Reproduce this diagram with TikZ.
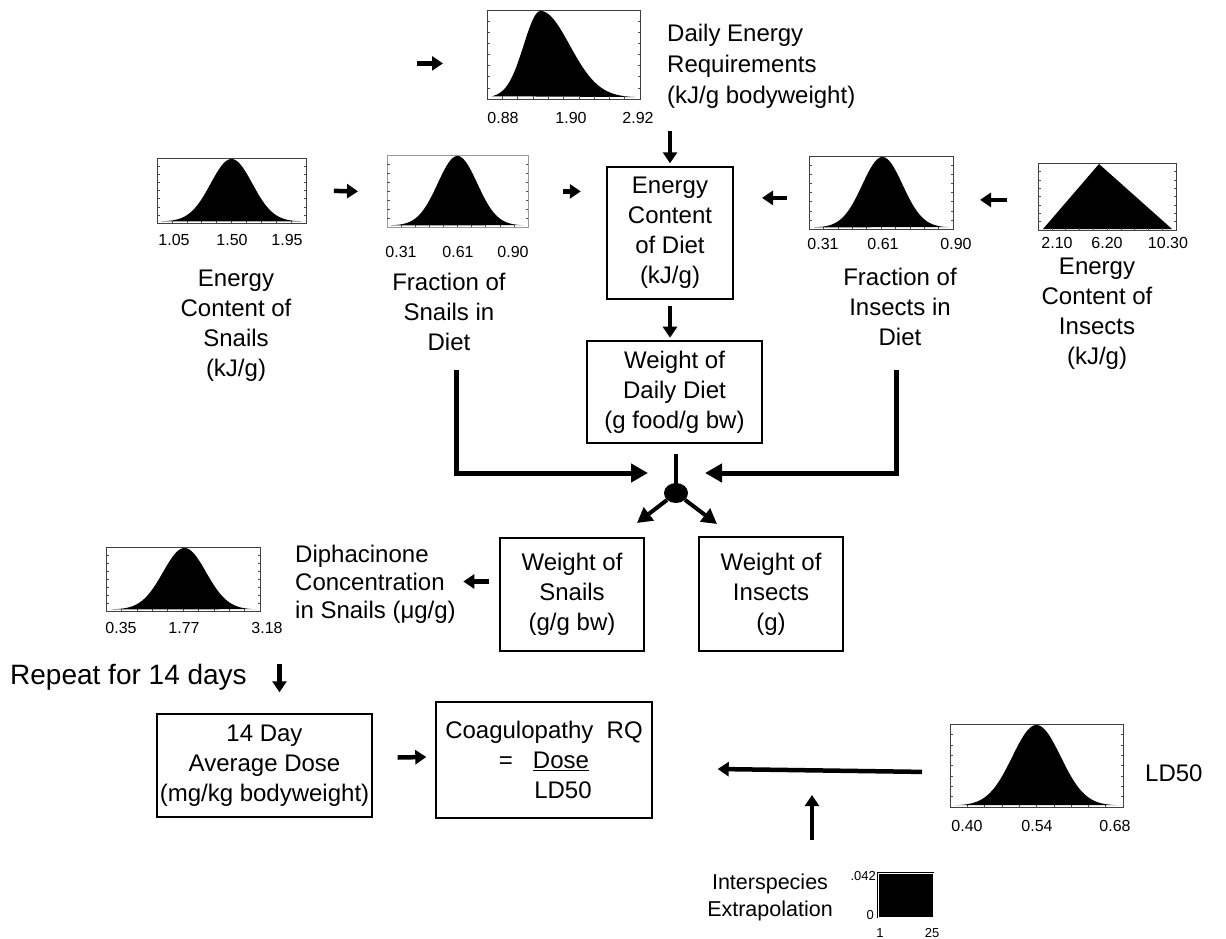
\documentclass[tikz,border=0pt]{standalone}
\usepackage{fontspec}
\setmainfont{Liberation Sans}
\usetikzlibrary{arrows.meta,shapes.geometric}

\tikzset{
  txt/.style={align=center, font=\fontsize{24}{30}\selectfont, inner sep=0pt},
  box/.style={draw, line width=1.4pt, align=center, font=\fontsize{24}{30}\selectfont, inner sep=0pt},
  hist/.style={draw=black!75, line width=0.8pt, inner sep=0pt},
  num/.style={font=\fontsize{16}{18}\selectfont, inner sep=0pt},
  tiny/.style={font=\fontsize{13}{14}\selectfont, inner sep=0pt},
  tickln/.style={line width=0.5pt, black!70},
  sarr/.style={line width=4.5pt, -{Triangle[length=11pt,width=14pt]}},
  barr/.style={line width=5pt, -{Triangle[length=17pt,width=18pt]}},
  darr/.style={line width=4pt, -{Triangle[length=15pt,width=16pt]}},
}

% ticks round a distribution box: left, top, width, height
\newcommand{\histticks}[4]{%
  \foreach \k in {1,...,7}{
    \draw[tickln] (#1,{#2+#4*\k/8}) -- ++(2.5,0);
    \draw[tickln] ({#1+#3},{#2+#4*\k/8}) -- ++(-2.5,0);}
  \foreach \k in {1,...,9}
    \draw[tickln] ({#1+#3*\k/10},{#2+#4}) -- ++(0,-2.5);}

% name, left, top, width, height, peak, spread
\newcommand{\bellhist}[7]{%
  \node[hist, minimum width=#4pt, minimum height=#5pt, anchor=north west] (#1) at (#2,#3) {};
  \fill plot[domain=0.03:0.97, samples=80, smooth]
    ({#2+#4*\x}, {#3+#5-1.5-(#5-2.5)*exp(0-((\x-#6)^2)/(2*#7*#7))}) -- cycle;
  \histticks{#2}{#3}{#4}{#5}}

\begin{document}
\begin{tikzpicture}[x=1pt,y=-1pt]
  \useasboundingbox (0,0) rectangle (1226,939);

  % input distributions
  \bellhist{reqHist}{487}{10}{153}{89}{0.35}{(\x<0.35?0.11:0.19)}
  \bellhist{snailEHist}{157}{158}{149}{65}{0.5}{0.14}
  \begin{scope}[hist/.append style={draw=black!40}]
    \bellhist{snailFHist}{387}{155}{141}{72}{0.5}{0.14}
  \end{scope}
  \bellhist{insFHist}{809}{156}{144}{73}{0.51}{0.14}
  \bellhist{dipHist}{106}{547}{154}{64}{0.51}{0.14}
  \bellhist{ldHist}{950}{724}{173}{83}{0.5}{0.14}

  \node[hist, minimum width=138pt, minimum height=67pt, anchor=north west] (insEHist) at (1038,163) {};
  \fill (1043,229) -- (1099,164) -- (1172,229) -- cycle;
  \histticks{1038}{163}{138}{67}

  \node[draw, double=white, double distance=0.8pt, fill=black, minimum width=55pt,
        minimum height=44pt, anchor=north west, inner sep=0pt] (uniHist) at (878,873) {};

  % axis values
  \node[num] (reqA) at (503,118) {0.88};
  \node[num] (reqB) at (571,118) {1.90};
  \node[num] (reqC) at (638,118) {2.92};
  \node[num] (snailEA) at (174,240) {1.05};
  \node[num] (snailEB) at (232,240) {1.50};
  \node[num] (snailEC) at (287,240) {1.95};
  \node[num] (snailFA) at (401,252) {0.31};
  \node[num] (snailFB) at (458,252) {0.61};
  \node[num] (snailFC) at (513,252) {0.90};
  \node[num] (insFA) at (823,244) {0.31};
  \node[num] (insFB) at (883,244) {0.61};
  \node[num] (insFC) at (956,244) {0.90};
  \node[num] (insEA) at (1057,243) {2.10};
  \node[num] (insEB) at (1107,243) {6.20};
  \node[num] (insEC) at (1168,243) {10.30};
  \node[num] (dipA) at (121,628) {0.35};
  \node[num] (dipB) at (184,628) {1.77};
  \node[num] (dipC) at (267,628) {3.18};
  \node[num] (ldA) at (967,826) {0.40};
  \node[num] (ldB) at (1037,826) {0.54};
  \node[num] (ldC) at (1115,826) {0.68};
  \node[tiny, anchor=east] (uniTop) at (876,876) {.042};
  \node[tiny, anchor=east] (uniBot) at (874,915) {0};
  \node[tiny] (uniLo) at (880,933) {1};
  \node[tiny] (uniHi) at (932,933) {25};

  % labels
  \node[txt, align=left, anchor=west, font=\fontsize{24}{31}\selectfont] (reqLab) at (667,66)
    {Daily Energy\\Requirements\\(kJ/g bodyweight)};
  \node[txt] (snailELab) at (236,326) {Energy\\Content of\\Snails\\(kJ/g)};
  \node[txt] (snailFLab) at (449,312) {Fraction of\\Snails in\\Diet};
  \node[txt] (insFLab) at (900,307) {Fraction of\\Insects in\\Diet};
  \node[txt] (insELab) at (1097,314) {Energy\\Content of\\Insects\\(kJ/g)};
  \node[txt, align=left, anchor=west, font=\fontsize{24}{28}\selectfont] (dipLab) at (295,584)
    {Diphacinone\\Concentration\\in Snails (μg/g)};
  \node[txt, anchor=west, font=\fontsize{28}{30}\selectfont] (repeatLab) at (10,677) {Repeat for 14 days};
  \node[txt, anchor=west] (ldLab) at (1145,773) {LD50};
  \node[txt, font=\fontsize{21.5}{27}\selectfont] (interLab) at (770,897) {Interspecies\\Extrapolation};

  % boxes
  \node[box, minimum width=126pt, minimum height=132pt] (dietE) at (670,233) {Energy\\Content\\of Diet\\(kJ/g)};
  \node[box, minimum width=175pt, minimum height=102pt] (dietW) at (674.5,392) {Weight of\\Daily Diet\\(g food/g bw)};
  \node[box, minimum width=144pt, minimum height=113pt] (snailW) at (572,594.5) {Weight of\\Snails\\(g/g bw)};
  \node[box, minimum width=144pt, minimum height=114pt] (insW) at (771,594) {Weight of\\Insects\\(g)};
  \node[box, minimum width=215pt, minimum height=103pt] (doseBox) at (264.5,765.5)
    {14 Day\\Average Dose\\(mg/kg bodyweight)};
  \node[box, minimum width=216pt, minimum height=116pt] (rqBox) at (544,760)
    {Coagulopathy\ \ RQ\\=\hspace{20pt}\underline{Dose}\\\hspace*{38pt}LD50};
  \node[ellipse, fill, minimum width=24pt, minimum height=20pt, inner sep=0pt] (hub) at (676,493) {};

  % arrows
  \draw[sarr] ([xshift=-70pt,yshift=-8.5pt]reqHist.west) -- ([xshift=-44pt,yshift=-8.5pt]reqHist.west);
  \draw[sarr] ([yshift=35pt]dietE.north) -- ([yshift=3pt]dietE.north);
  \draw[sarr] ([xshift=27pt]snailEHist.east) -- ([xshift=-29pt]snailFHist.west);
  \draw[sarr] ([xshift=34pt]snailFHist.east) -- ([xshift=52pt]snailFHist.east);
  \draw[sarr] ([xshift=-22pt,yshift=-5pt]insFHist.west) -- ([xshift=-47pt,yshift=-5pt]insFHist.west);
  \draw[sarr] ([xshift=-31pt,yshift=-3pt]insEHist.west) -- ([xshift=-58pt,yshift=-3pt]insEHist.west);
  \draw[sarr] ([yshift=-6pt]dietE.south) -- ([yshift=-38pt]dietE.south);

  \coordinate (snailDrop) at (456,370);
  \coordinate (insDrop) at (896,370);
  \draw[barr] (snailDrop) |- ([xshift=-28pt,yshift=20pt]hub.center);
  \draw[barr] (insDrop) |- ([xshift=29pt,yshift=20pt]hub.center);
  \draw[line width=4pt] ([yshift=39pt]hub.center) -- (hub.center);
  \draw[darr] (hub) -- ([xshift=-39pt,yshift=-30pt]hub.center);
  \draw[darr] (hub) -- ([xshift=41pt,yshift=-31pt]hub.center);

  \draw[sarr] ([xshift=-10pt,yshift=13pt]snailW.west) -- ([xshift=-36pt,yshift=13pt]snailW.west);
  \draw[sarr] ([xshift=15pt,yshift=49pt]doseBox.north) -- ([xshift=15pt,yshift=21pt]doseBox.north);
  \draw[sarr] ([xshift=25pt,yshift=8pt]doseBox.east) -- ([xshift=-9pt,yshift=3pt]rqBox.west);
  \draw[sarr] ([xshift=-28pt,yshift=-6pt]ldHist.west) -- ([xshift=65pt,yshift=-9pt]rqBox.east);
  \coordinate (interUp) at (812,840);
  \draw[sarr] (interUp) -- ++(0,-45);
\end{tikzpicture}
\end{document}
